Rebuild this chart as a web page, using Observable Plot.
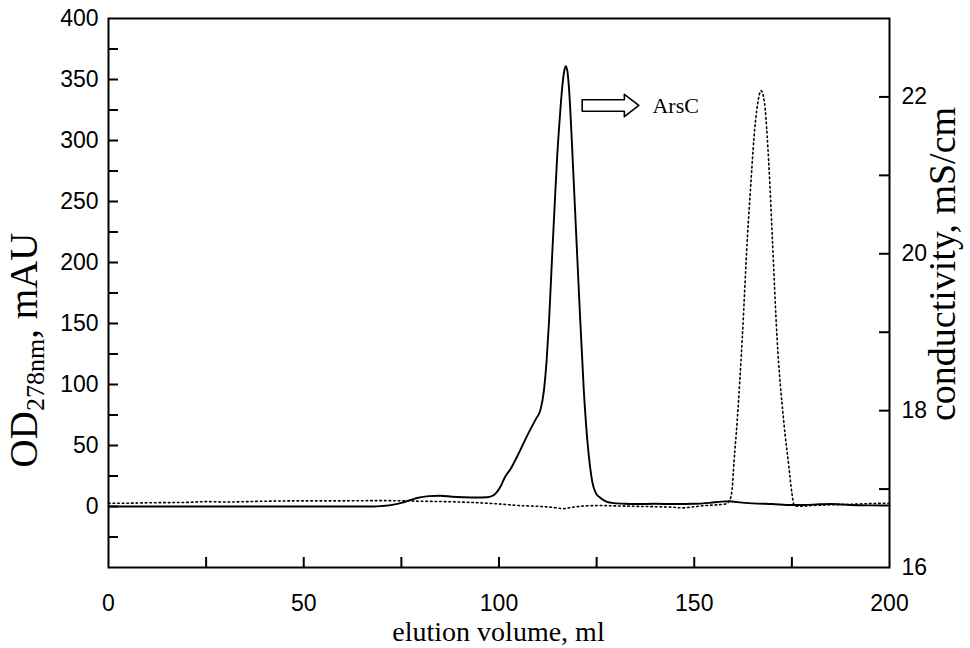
<!DOCTYPE html>
<html><head><meta charset="utf-8">
<script src="https://cdn.jsdelivr.net/npm/d3@7"></script>
<script src="https://cdn.jsdelivr.net/npm/@observablehq/plot@0.6"></script>
<style>html,body{margin:0;padding:0;background:#fff;}</style>
</head><body><div id="chart"></div>
<script>
// Solid trace: OD 278 nm (mAU) vs elution volume (ml)
const elutionMl = [0,10,20,30,40,50,60,68,70,73,75,77,79,82,85,88,91,94,97,98.5,99.5,100.5,101.5,103,104.5,106,108,109.5,110.6,111.5,112.2,112.8,113.6,114.3,114.9,115.6,116.2,116.7,117.1,117.5,117.9,118.6,119.2,120.4,121.7,122.6,123.3,123.9,124.8,126,127.5,129,132,135,140,145,150,154,157,159,161,165,170,175,178,182,185,188,192,196,200];
const od278 = [0,0,0,0,0,0,0,0,0.4,1.5,3,5,7,8.5,8.8,8,7.6,7.4,7.6,9,12,17,24,31,40,50,63,72,79,95,120,151,205,250,287,320,344,357,361,357,344,303,262,180,96,55,33,20,11,7,4,3,2.3,2,2.2,2,2.2,3,4,4.3,3.6,2.6,2,1.2,1.2,1.8,2.1,1.6,1,0.9,0.8];

// Dotted trace: conductivity (mS/cm) vs elution volume (ml)
const condMl = [0,5,10,20,25,30,40,50,60,70,80,90,95,100,105,110,114,116.5,119,122,126,130,135,140,144,147,150,153,156,158,159,159.7,160.2,161,162.3,163.6,164.5,165.3,166.2,167.1,168,168.7,169.4,170,171.2,172.9,174.2,175,175.6,177,180,185,190,195,200];
const conductivity = [16.82,16.82,16.825,16.83,16.84,16.835,16.845,16.85,16.85,16.853,16.845,16.835,16.825,16.81,16.79,16.78,16.765,16.75,16.77,16.785,16.79,16.785,16.78,16.775,16.77,16.76,16.775,16.79,16.8,16.81,16.85,17.0,17.36,17.87,18.93,20.2,20.9,21.48,21.9,22.08,21.92,21.48,20.85,20.2,18.93,17.87,17.3,16.95,16.79,16.78,16.79,16.8,16.805,16.815,16.82];

// Axes
const xTickValues = [25,50,75,100,125,150,175];
const xTickLabels = [0,50,100,150,200];
const odTickValues = [-25,0,25,50,75,100,125,150,175,200,225,250,275,300,325,350,375];
const odTickLabels = [0,50,100,150,200,250,300,350,400];
const condTickValues = [17,18,19,20,21,22];
const condTickLabels = [16,18,20,22];
const odDomain = [-50,400];
const condDomain = [16,23];

// Annotation
const annotationText = "ArsC";
const arrowTail = 121.3, arrowHeadBase = 132.1, arrowTip = 135.8, arrowLevel = 328.7;
const shaftHalf = 4.7, headHalf = 9.2;
const labelX = 139.3;

const xTitle = "elution volume, ml";
const yTitleMain = "OD", yTitleSub = "278nm", yTitleTail = ", mAU";
const y2Title = "conductivity, mS/cm";

// map conductivity onto the OD scale (shared plot area)
const k = (odDomain[1] - odDomain[0]) / (condDomain[1] - condDomain[0]);
const toOD = c => (c - condDomain[0]) * k + odDomain[0];
const fromOD = v => (v - odDomain[0]) / k + condDomain[0];

const solid = elutionMl.map((x, i) => ({x, y: od278[i]}));
const cond = condMl.map((x, i) => ({x, y: toOD(conductivity[i])}));
const arrowPoly = [
  [arrowTail, arrowLevel + shaftHalf], [arrowHeadBase, arrowLevel + shaftHalf],
  [arrowHeadBase, arrowLevel + headHalf], [arrowTip, arrowLevel],
  [arrowHeadBase, arrowLevel - headHalf], [arrowHeadBase, arrowLevel - shaftHalf],
  [arrowTail, arrowLevel - shaftHalf], [arrowTail, arrowLevel + shaftHalf]
].map(([x, y]) => ({x, y}));

const W = 970, H = 648, mt = 18, mr = 81, mb = 81, ml = 108;
const innerW = W - ml - mr, innerH = H - mt - mb;
const tickLen = 10;
const sans = "'Liberation Sans', Arial, sans-serif";
const serif = "'Liberation Serif', 'Times New Roman', serif";
const tickFont = 23;

const plot = Plot.plot({
  width: W, height: H,
  marginTop: mt, marginRight: mr, marginBottom: mb, marginLeft: ml,
  style: {fontFamily: sans, fontSize: "23px", color: "#000", background: "#fff"},
  x: {domain: [0, 200]},
  y: {domain: odDomain},
  marks: [
    Plot.ruleX(xTickValues, {x: d => d, insetTop: innerH - tickLen, strokeWidth: 2}),
    Plot.ruleY(odTickValues, {y: d => d, insetRight: innerW - tickLen, strokeWidth: 2}),
    Plot.ruleY(condTickValues.map(toOD), {y: d => d, insetLeft: innerW - tickLen, strokeWidth: 2}),
    Plot.axisX({ticks: xTickLabels, tickSize: 0, tickPadding: 27, label: null, fontSize: tickFont, stroke: "#000", strokeWidth: 0.5}),
    Plot.axisY({anchor: "left", ticks: odTickLabels, tickSize: 0, tickPadding: 10, label: null, fontSize: tickFont, stroke: "#000", strokeWidth: 0.5}),
    Plot.axisY({anchor: "right", ticks: condTickLabels.map(toOD), tickFormat: d => String(Math.round(fromOD(d))), tickSize: 0, tickPadding: 12, label: null, fontSize: tickFont, stroke: "#000", strokeWidth: 0.5}),
    Plot.line(cond, {x: "x", y: "y", curve: "monotone-x", strokeWidth: 1.6, strokeDasharray: "1.6,3"}),
    Plot.line(solid, {x: "x", y: "y", curve: "monotone-x", strokeWidth: 1.9}),
    Plot.line(arrowPoly, {x: "x", y: "y", strokeWidth: 1.6}),
    Plot.text([annotationText], {x: labelX, y: arrowLevel, text: d => d, textAnchor: "start", lineAnchor: "middle", fontFamily: serif, fontSize: 22}),
    Plot.frame({strokeWidth: 2})
  ]
});

const svg = d3.select(plot);
svg.append("text")
  .attr("transform", `translate(${ml + innerW / 2},641)`)
  .attr("text-anchor", "middle").attr("font-family", serif).attr("font-size", 28).attr("fill", "#000")
  .text(xTitle);
const lt = svg.append("text")
  .attr("transform", "translate(37,350) rotate(-90)")
  .attr("text-anchor", "middle").attr("font-family", serif).attr("font-size", 39).attr("fill", "#000");
lt.append("tspan").text(yTitleMain);
lt.append("tspan").attr("font-size", 26).attr("dy", 7).text(yTitleSub);
lt.append("tspan").attr("dy", -7).text(yTitleTail);
svg.append("text")
  .attr("transform", "translate(955,264) rotate(-90)")
  .attr("text-anchor", "middle").attr("font-family", serif).attr("font-size", 38).attr("fill", "#000")
  .text(y2Title);

document.getElementById("chart").appendChild(plot);
</script>
</body></html>
